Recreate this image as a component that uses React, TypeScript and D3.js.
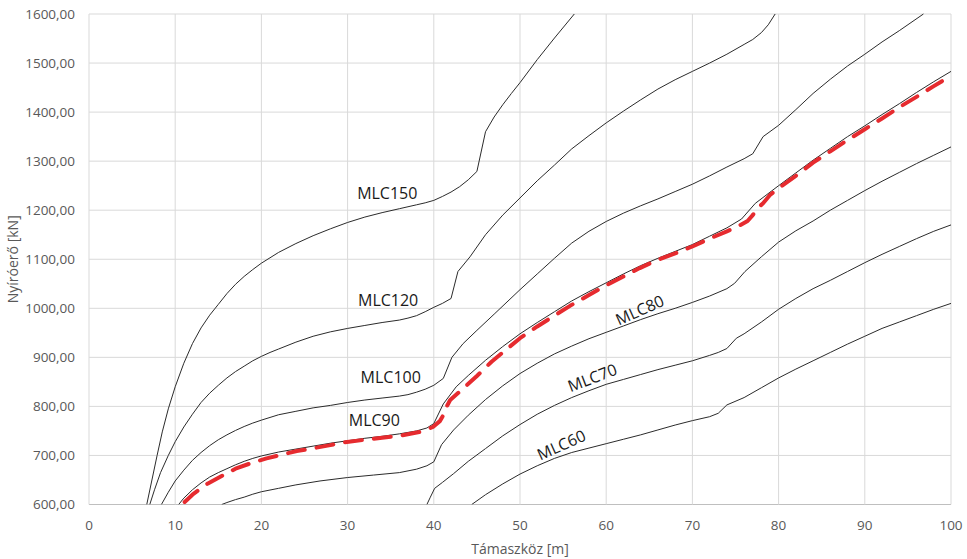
import * as d3 from "d3";
import { useEffect, useRef } from "react";

// axis ticks
const xTicks = [0, 10, 20, 30, 40, 50, 60, 70, 80, 90, 100];
const yTicks = [600, 700, 800, 900, 1000, 1100, 1200, 1300, 1400, 1500, 1600];

// [span m, shear kN]
const mlc150 = [
  [6.7, 600], [7.3, 650], [7.9, 700], [8.5, 748], [9.2, 795], [10, 840], [11, 888],
  [12, 928], [13, 960], [14, 986], [15, 1008], [16, 1030], [17, 1049], [18, 1065],
  [19, 1079], [20, 1092], [22, 1114], [24, 1132], [26, 1148], [28, 1162], [30, 1175],
  [32, 1186], [34, 1195], [36, 1203], [38, 1211], [39, 1215], [40, 1220], [41, 1228],
  [42, 1237], [43, 1248], [44, 1262], [45, 1279], [46, 1360], [47, 1390], [48, 1415],
  [49, 1438], [50, 1460], [52, 1507], [54, 1551], [56.3, 1600]
];

const mlc120 = [
  [7.05, 600], [7.6, 630], [8.3, 665], [9.2, 700], [10, 728], [11, 758], [12, 784],
  [13, 808], [14, 827], [15, 843], [16, 858], [17, 871], [18, 882], [19, 893], [20, 902],
  [21, 910], [22, 917], [24, 931], [26, 943], [28, 952], [30, 959], [32, 965], [34, 971],
  [36, 976], [37, 980], [38, 985], [39, 993], [40, 1002], [41, 1010], [42, 1020],
  [42.8, 1075], [44.2, 1105], [46, 1150], [48, 1190], [50, 1225], [52, 1260], [54, 1292],
  [56, 1325], [58, 1352], [60, 1378], [62, 1402], [64, 1425], [66, 1447], [68, 1466],
  [70, 1483], [72, 1500], [74, 1518], [76, 1538], [77, 1548], [78, 1562], [78.8, 1578],
  [79.6, 1600]
];

const mlc100 = [
  [8.4, 600], [9.2, 625], [10, 648], [11, 670], [12, 690], [13, 706], [14, 720],
  [15, 732], [16, 742], [17, 751], [18, 759], [19, 766], [20, 772], [22, 783], [24, 790],
  [26, 797], [28, 802], [30, 808], [32, 813], [34, 817], [36, 821], [37, 824], [38, 829],
  [39, 835], [40, 843], [41.1, 857], [42.1, 900], [43.4, 928], [45, 955], [47, 988],
  [50, 1038], [52, 1070], [54, 1102], [56, 1133], [58, 1157], [60, 1177], [62, 1194],
  [64, 1209], [66, 1223], [68, 1238], [70, 1253], [72, 1270], [74, 1288], [76, 1305],
  [77, 1315], [78.2, 1350], [80, 1373], [82, 1405], [84, 1438], [86, 1467], [88, 1494],
  [90, 1518], [92, 1543], [94, 1566], [96.8, 1600]
];

const mlc90 = [
  [10.4, 600], [11, 613], [12, 630], [13, 644], [14, 656], [15, 665], [16, 673],
  [17, 681], [18, 688], [19, 694], [20, 699], [22, 707], [24, 713], [26, 719], [28, 725],
  [30, 730], [32, 735], [34, 739], [36, 744], [38, 750], [39.2, 756], [40, 765],
  [41.1, 805], [42.6, 840], [44, 863], [46, 894], [48, 922], [50, 948], [52, 971],
  [54, 993], [56, 1015], [58, 1034], [60, 1052], [62, 1070], [64, 1087], [66, 1102],
  [68, 1116], [70, 1130], [72, 1147], [74, 1164], [75.7, 1182], [77.3, 1214], [80, 1250],
  [82, 1276], [84, 1302], [86, 1326], [88, 1350], [90, 1372], [92, 1395], [94, 1417],
  [96, 1440], [98, 1462], [100, 1483]
];

const mlc80 = [
  [15.4, 600], [16, 604], [17, 610], [18, 615], [19, 621], [20, 626], [22, 633],
  [24, 640], [26.8, 648], [30, 655], [33, 660], [36, 665], [38, 672], [39.2, 679],
  [40, 687], [40.9, 722], [42.3, 752], [44, 782], [46, 814], [48, 842], [50, 867],
  [52, 888], [54, 907], [56, 923], [58, 938], [60, 951], [62, 964], [64, 977], [66, 989],
  [68, 1000], [70, 1012], [72, 1025], [74, 1040], [74.9, 1051], [76.1, 1075], [78, 1105],
  [80, 1135], [82, 1158], [84, 1178], [86, 1200], [88, 1220], [90, 1240], [92, 1259],
  [94, 1277], [96, 1295], [98, 1312], [100, 1329]
];

const mlc70 = [
  [39.2, 600], [39.6, 615], [40.1, 633], [41, 645], [42.3, 663], [44, 688], [46, 714],
  [48, 740], [50, 763], [52, 784], [54, 802], [56, 818], [58, 832], [60, 845], [62, 855],
  [64, 865], [66, 875], [68, 884], [70, 893], [72, 904], [73, 910], [74, 918],
  [75.1, 939], [76, 948], [78, 972], [80, 998], [82, 1020], [84, 1040], [86, 1057],
  [88, 1075], [90, 1093], [92, 1110], [94, 1126], [96, 1142], [98, 1157], [100, 1170]
];

const mlc60 = [
  [44.4, 600], [46, 620], [48, 642], [50, 662], [52, 679], [54, 694], [56, 706],
  [58, 715], [60, 724], [62, 733], [64, 742], [66, 752], [68, 762], [70, 771], [72, 779],
  [73, 786], [74, 803], [76, 818], [78, 838], [80, 858], [82, 876], [84, 893], [86, 910],
  [88, 927], [90, 943], [92, 959], [94, 972], [96, 985], [98, 998], [100, 1010]
];

// red dashed line
const redLine = [
  [11.1, 605], [12, 620], [13, 633], [13.8, 643], [15.6, 660], [17, 673], [18.9, 685],
  [20.6, 694], [22, 700], [24.1, 709], [25.8, 714], [28, 721], [29.3, 726], [32, 732],
  [34, 736], [36, 740], [38.4, 748], [39.9, 758], [40.7, 770], [41.1, 782], [41.5, 800],
  [41.9, 813], [43, 830], [45, 862], [46.7, 891], [48, 910], [50, 939], [52, 963],
  [55.8, 1005], [58, 1027], [60, 1047], [62, 1065], [63.9, 1082], [66, 1099], [68, 1112],
  [70, 1126], [72, 1142], [74, 1157], [75.3, 1167], [76.4, 1178], [77, 1190],
  [77.6, 1205], [78.2, 1214], [79, 1231], [80, 1245], [82, 1270], [84, 1297], [86, 1320],
  [88, 1343], [90, 1365], [92, 1387], [94, 1410], [96, 1431], [98, 1453], [100, 1474]
];

const seriesNames = ["MLC150", "MLC120", "MLC100", "MLC90", "MLC80", "MLC70", "MLC60"];
const seriesData = [mlc150, mlc120, mlc100, mlc90, mlc80, mlc70, mlc60];

const App = () => {
  const chartRef = useRef(null);

  const width = 967;
  const height = 559;
  const margin = { top: 14, right: 16, bottom: 54.5, left: 89 };

  useEffect(() => {
    const svg = d3.select(chartRef.current);
    svg.selectAll("*").remove();

    const x = d3.scaleLinear().domain([0, 100]).range([margin.left, width - margin.right]);
    const y = d3.scaleLinear().domain([600, 1600]).range([height - margin.bottom, margin.top]);

    const font = "'Open Sans', 'Noto Sans', sans-serif";

    // grid
    svg.append("g")
      .selectAll("line")
      .data(yTicks)
      .enter()
      .append("line")
      .attr("x1", x(0))
      .attr("x2", x(100))
      .attr("y1", d => y(d))
      .attr("y2", d => y(d))
      .attr("stroke", d => (d === 600 ? "#bfbfbf" : "#d9d9d9"))
      .attr("stroke-width", 1);

    svg.append("g")
      .selectAll("line")
      .data(xTicks)
      .enter()
      .append("line")
      .attr("x1", d => x(d))
      .attr("x2", d => x(d))
      .attr("y1", y(600))
      .attr("y2", y(1600))
      .attr("stroke", "#d9d9d9")
      .attr("stroke-width", 1);

    // tick labels
    svg.append("g")
      .selectAll("text")
      .data(yTicks)
      .enter()
      .append("text")
      .attr("x", x(0) - 14)
      .attr("y", d => y(d))
      .attr("dy", "0.35em")
      .attr("text-anchor", "end")
      .style("font-family", font)
      .style("font-size", "13.5px")
      .style("fill", "#595959")
      .text(d => d3.format(".2f")(d).replace(".", ","));

    svg.append("g")
      .selectAll("text")
      .data(xTicks)
      .enter()
      .append("text")
      .attr("x", d => x(d))
      .attr("y", y(600) + 21)
      .attr("dy", "0.35em")
      .attr("text-anchor", "middle")
      .style("font-family", font)
      .style("font-size", "13.5px")
      .style("fill", "#595959")
      .text(d => d);

    // axis titles
    svg.append("text")
      .attr("x", (x(0) + x(100)) / 2)
      .attr("y", 549)
      .attr("dy", "0.35em")
      .attr("text-anchor", "middle")
      .style("font-family", font)
      .style("font-size", "14px")
      .style("fill", "#595959")
      .text("Támaszköz [m]");

    svg.append("text")
      .attr("transform", `translate(13, ${(y(600) + y(1600)) / 2}) rotate(-90)`)
      .attr("dy", "0.35em")
      .attr("text-anchor", "middle")
      .style("font-family", font)
      .style("font-size", "14px")
      .style("fill", "#595959")
      .text("Nyíróerő [kN]");

    svg.append("clipPath")
      .attr("id", "plot-clip")
      .append("rect")
      .attr("x", x(0))
      .attr("y", y(1600) - 1)
      .attr("width", x(100) - x(0) + 1)
      .attr("height", y(600) - y(1600) + 1);

    const line = d3.line()
      .x(d => x(d[0]))
      .y(d => y(d[1]));

    const plot = svg.append("g").attr("clip-path", "url(#plot-clip)");

    plot.selectAll(".mlc")
      .data(seriesData)
      .enter()
      .append("path")
      .attr("class", "mlc")
      .attr("d", d => line(d))
      .attr("fill", "none")
      .attr("stroke", "#2b2b2b")
      .attr("stroke-width", 1)
      .attr("stroke-linejoin", "round");

    plot.append("path")
      .attr("d", line(redLine))
      .attr("fill", "none")
      .attr("stroke", "#e62b2f")
      .attr("stroke-width", 4)
      .attr("stroke-linecap", "round")
      .attr("stroke-linejoin", "round")
      .attr("stroke-dasharray", "17 12");

    // curve labels, placed in data units
    const labelPos = [
      { x: 34.6, y: 1235, r: 0 },
      { x: 34.7, y: 1017, r: 0 },
      { x: 35.0, y: 860, r: 0 },
      { x: 33.1, y: 772, r: 0 },
      { x: 63.9, y: 996, r: -24 },
      { x: 58.4, y: 858, r: -21 },
      { x: 54.8, y: 721, r: -24 }
    ];

    svg.append("g")
      .selectAll("text")
      .data(seriesNames)
      .enter()
      .append("text")
      .attr("transform", (d, i) =>
        `translate(${x(labelPos[i].x)}, ${y(labelPos[i].y)}) rotate(${labelPos[i].r})`)
      .attr("dy", "0.35em")
      .attr("text-anchor", "middle")
      .style("font-family", font)
      .style("font-size", "16px")
      .style("fill", "#1a1a1a")
      .text(d => d);
  }, []);

  return (
    <svg
      ref={chartRef}
      width={width}
      height={height}
      style={{ position: "absolute", left: 0, top: 0, background: "#fff" }}
    ></svg>
  );
};

export default App;
